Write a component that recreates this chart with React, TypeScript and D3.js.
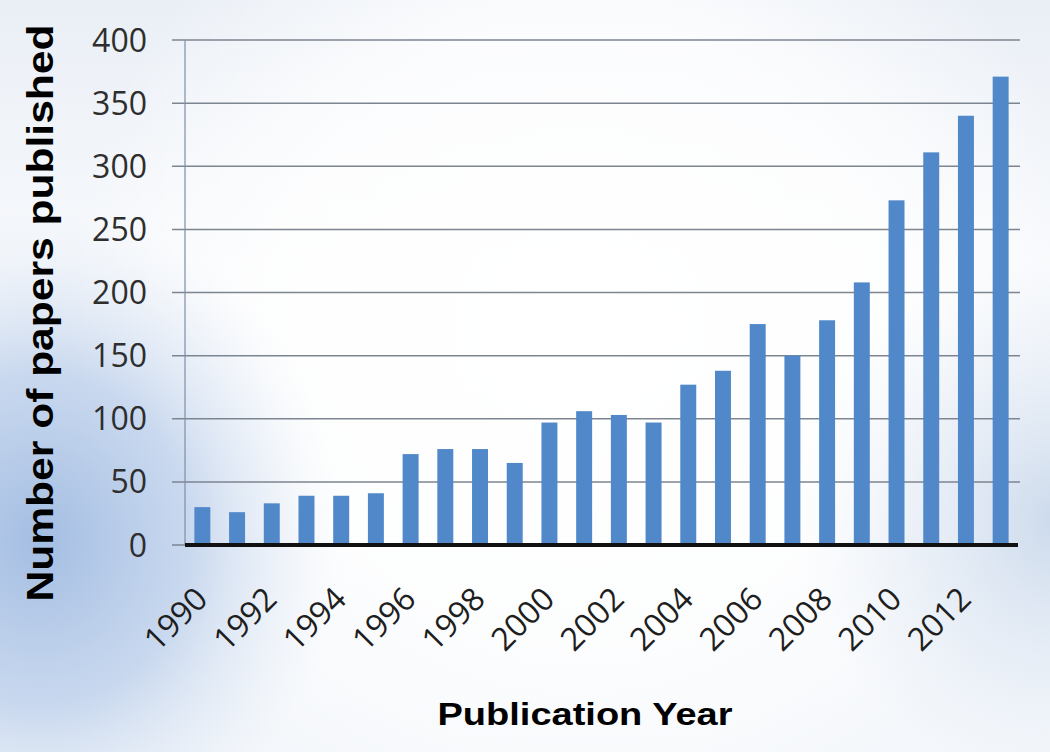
import React, { useEffect, useRef } from 'react'
import * as d3 from 'd3'

const years = [
  1990, 1991, 1992, 1993, 1994, 1995, 1996, 1997, 1998, 1999, 2000, 2001,
  2002, 2003, 2004, 2005, 2006, 2007, 2008, 2009, 2010, 2011, 2012, 2013,
]
const papers = [
  30, 26, 33, 39, 39, 41, 72, 76, 76, 65, 97, 106,
  103, 97, 127, 138, 175, 150, 178, 208, 273, 311, 340, 371,
]
const yTicks = [0, 50, 100, 150, 200, 250, 300, 350, 400]
const xLabels = [1990, 1992, 1994, 1996, 1998, 2000, 2002, 2004, 2006, 2008, 2010, 2012]

export default function App() {
  const svgRef = useRef<SVGSVGElement | null>(null)

  useEffect(() => {
    const width = 1050
    const height = 752
    const svg = d3.select(svgRef.current)
    svg.selectAll('*').remove()
    svg.attr('width', width).attr('height', height).attr('viewBox', `0 0 ${width} ${height}`)

    const left = 185
    const right = 1018
    const top = 40
    const bottom = 545

    // background: pale wash with a blue glow at the left edge
    const defs = svg.append('defs')
    const base = defs.append('linearGradient').attr('id', 'bg').attr('x1', 0).attr('y1', 0).attr('x2', 0).attr('y2', 1)
    base.append('stop').attr('offset', '0%').attr('stop-color', '#eaeff6')
    base.append('stop').attr('offset', '35%').attr('stop-color', '#f7f9fc')
    base.append('stop').attr('offset', '100%').attr('stop-color', '#f4f7fb')

    const glow = defs.append('radialGradient').attr('id', 'glow')
      .attr('gradientUnits', 'userSpaceOnUse')
      .attr('cx', 0).attr('cy', 0).attr('r', 1)
      .attr('gradientTransform', 'translate(40,540) scale(300,330)')
    glow.append('stop').attr('offset', '0%').attr('stop-color', '#a3bde2').attr('stop-opacity', 1)
    glow.append('stop').attr('offset', '50%').attr('stop-color', '#b9cdea').attr('stop-opacity', 0.75)
    glow.append('stop').attr('offset', '100%').attr('stop-color', '#dfe8f4').attr('stop-opacity', 0)

    const white = defs.append('radialGradient').attr('id', 'white')
      .attr('gradientUnits', 'userSpaceOnUse')
      .attr('cx', 580).attr('cy', 330).attr('r', 520)
    white.append('stop').attr('offset', '0%').attr('stop-color', '#ffffff').attr('stop-opacity', 1)
    white.append('stop').attr('offset', '60%').attr('stop-color', '#ffffff').attr('stop-opacity', 0.8)
    white.append('stop').attr('offset', '100%').attr('stop-color', '#ffffff').attr('stop-opacity', 0)

    const glowR = defs.append('radialGradient').attr('id', 'glowR')
      .attr('gradientUnits', 'userSpaceOnUse')
      .attr('cx', 1060).attr('cy', 520).attr('r', 260)
    glowR.append('stop').attr('offset', '0%').attr('stop-color', '#c7d6ea').attr('stop-opacity', 0.9)
    glowR.append('stop').attr('offset', '100%').attr('stop-color', '#dfe8f4').attr('stop-opacity', 0)

    svg.append('rect').attr('width', width).attr('height', height).attr('fill', 'url(#bg)')
    svg.append('rect').attr('width', width).attr('height', height).attr('fill', 'url(#white)')
    svg.append('rect').attr('width', width).attr('height', height).attr('fill', 'url(#glowR)')
    svg.append('rect').attr('width', width).attr('height', height).attr('fill', 'url(#glow)')

    const x = d3.scaleBand<number>()
      .domain(years)
      .range([left, right])
      .paddingInner(0.54)
      .paddingOuter(0.27)

    const y = d3.scaleLinear().domain([0, 400]).range([bottom, top])

    // gridlines
    svg.append('g')
      .selectAll('line')
      .data(yTicks.filter(t => t > 0))
      .join('line')
      .attr('x1', 172)
      .attr('x2', 1020)
      .attr('y1', d => y(d))
      .attr('y2', d => y(d))
      .attr('stroke', '#7d8591')
      .attr('stroke-width', 1.5)

    // zero tick stub
    svg.append('line')
      .attr('x1', 172).attr('x2', left)
      .attr('y1', y(0)).attr('y2', y(0))
      .attr('stroke', '#7d8591').attr('stroke-width', 1.5)

    // y axis line
    svg.append('line')
      .attr('x1', left).attr('x2', left)
      .attr('y1', top).attr('y2', bottom)
      .attr('stroke', '#7f8ea6')
      .attr('stroke-width', 1.2)

    // bars
    svg.append('g')
      .selectAll('rect')
      .data(years)
      .join('rect')
      .attr('x', d => x(d) as number)
      .attr('width', x.bandwidth())
      .attr('y', (d, i) => y(papers[i]))
      .attr('height', (d, i) => bottom - y(papers[i]))
      .attr('fill', '#5088ca')

    // baseline
    svg.append('line')
      .attr('x1', left).attr('x2', right)
      .attr('y1', bottom).attr('y2', bottom)
      .attr('stroke', '#111')
      .attr('stroke-width', 4)

    // y tick labels
    svg.append('g')
      .selectAll('text')
      .data(yTicks)
      .join('text')
      .attr('x', 147)
      .attr('y', d => y(d))
      .attr('dy', '0.36em')
      .attr('text-anchor', 'end')
      .attr('font-family', 'Open Sans, sans-serif')
      .attr('font-size', 32)
      .attr('fill', '#2e2e2e')
      .text(d => d)

    // x tick labels
    svg.append('g')
      .selectAll('text')
      .data(xLabels)
      .join('text')
      .attr('transform', d => `translate(${(x(d) as number) + x.bandwidth() / 2 + 7},${601}) rotate(-45)`)
      .attr('text-anchor', 'end')
      .attr('font-family', 'Open Sans, sans-serif')
      .attr('font-size', 32)
      .attr('fill', '#1e1e1e')
      .text(d => d)

    // axis titles
    svg.append('text')
      .attr('transform', 'translate(53,313) rotate(-90)')
      .attr('text-anchor', 'middle')
      .attr('font-family', 'Liberation Sans, Arial, sans-serif')
      .attr('font-weight', 'bold')
      .attr('font-size', 36)
      .attr('textLength', 577)
      .attr('lengthAdjust', 'spacingAndGlyphs')
      .attr('fill', '#000')
      .text('Number of papers published')

    svg.append('text')
      .attr('x', 585)
      .attr('y', 725)
      .attr('text-anchor', 'middle')
      .attr('font-family', 'Liberation Sans, Arial, sans-serif')
      .attr('font-weight', 'bold')
      .attr('font-size', 32)
      .attr('textLength', 295)
      .attr('lengthAdjust', 'spacingAndGlyphs')
      .attr('fill', '#000')
      .text('Publication Year')
  }, [])

  return (
    <svg
      ref={svgRef}
      style={{ position: 'absolute', left: 0, top: 0, display: 'block' }}
    />
  )
}
